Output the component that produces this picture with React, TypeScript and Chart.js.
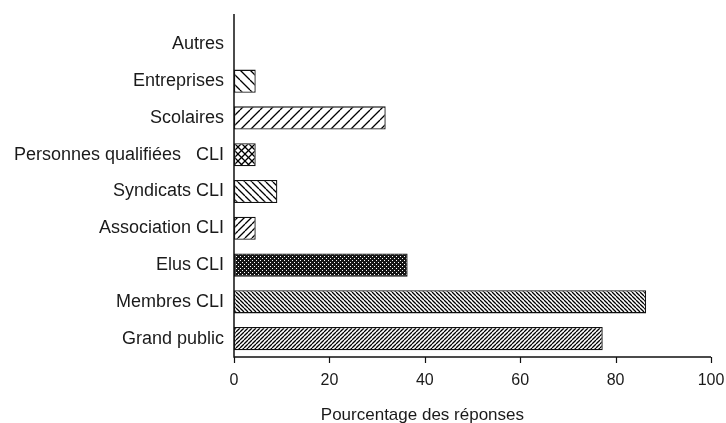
import React, { useEffect, useRef } from "react";
import { Chart, registerables } from "chart.js";

Chart.register(...registerables);

const categories = [
  "Autres",
  "Entreprises",
  "Scolaires",
  "Personnes qualifiées   CLI",
  "Syndicats CLI",
  "Association CLI",
  "Elus CLI",
  "Membres CLI",
  "Grand public",
];
const percentages = [0, 4.55, 31.8, 4.55, 9.09, 4.55, 36.4, 86.4, 77.3];
const xTicks = [0, 20, 40, 60, 80, 100];
const xTitle = "Pourcentage des réponses";

type PatSpec = { kind: "hatch"; size: number; dirs: string[]; lw: number } | { kind: "dots" };
const patternSpecs: PatSpec[] = [
  { kind: "hatch", size: 10, dirs: ["\\"], lw: 1.3 },
  { kind: "hatch", size: 10, dirs: ["\\"], lw: 1.3 },
  { kind: "hatch", size: 10, dirs: ["/"], lw: 1.3 },
  { kind: "hatch", size: 7, dirs: ["/", "\\"], lw: 1.3 },
  { kind: "hatch", size: 7, dirs: ["\\"], lw: 1.3 },
  { kind: "hatch", size: 7, dirs: ["/"], lw: 1.3 },
  { kind: "dots" },
  { kind: "hatch", size: 4, dirs: ["\\"], lw: 1.3 },
  { kind: "hatch", size: 4, dirs: ["/"], lw: 1.3 },
];

function makePattern(ctx: CanvasRenderingContext2D, spec: PatSpec): CanvasPattern | string {
  const c = document.createElement("canvas");
  if (spec.kind === "dots") {
    c.width = 4;
    c.height = 4;
    const g = c.getContext("2d")!;
    g.fillStyle = "#151515";
    g.fillRect(0, 0, 4, 4);
    g.fillStyle = "#fff";
    g.fillRect(0, 0, 1, 1);
    g.fillRect(2, 2, 1, 1);
    return ctx.createPattern(c, "repeat") || "#333";
  }
  const s = spec.size;
  c.width = s;
  c.height = s;
  const g = c.getContext("2d")!;
  g.fillStyle = "#fff";
  g.fillRect(0, 0, s, s);
  g.strokeStyle = "#000";
  g.lineWidth = spec.lw;
  for (const d of spec.dirs) {
    g.beginPath();
    for (const o of [-s, 0, s]) {
      if (d === "/") {
        g.moveTo(o, s);
        g.lineTo(o + s, 0);
      } else {
        g.moveTo(o, 0);
        g.lineTo(o + s, s);
      }
    }
    g.stroke();
  }
  return ctx.createPattern(c, "repeat") || "#fff";
}

const FONT = "'Liberation Sans', Arial, sans-serif";

const axesPlugin = {
  id: "customAxes",
  afterDatasetsDraw(chart: any) {
    const { ctx, chartArea } = chart;
    const xs = chart.scales.x;
    ctx.save();
    ctx.strokeStyle = "#111";
    ctx.lineWidth = 1.5;
    ctx.beginPath();
    ctx.moveTo(chartArea.left, chartArea.top - 12);
    ctx.lineTo(chartArea.left, chartArea.bottom);
    ctx.lineTo(chartArea.right, chartArea.bottom);
    ctx.stroke();
    ctx.lineWidth = 1.2;
    ctx.beginPath();
    for (const t of xTicks) {
      const px = Math.round(xs.getPixelForValue(t)) + 0.5;
      ctx.moveTo(px, chartArea.bottom);
      ctx.lineTo(px, chartArea.bottom + 6);
    }
    ctx.stroke();
    ctx.fillStyle = "#1a1a1a";
    ctx.textAlign = "center";
    ctx.textBaseline = "middle";
    ctx.font = "16px " + FONT;
    for (const t of xTicks) {
      ctx.fillText(String(t), xs.getPixelForValue(t), chartArea.bottom + 24);
    }
    ctx.font = "17px " + FONT;
    ctx.fillText(xTitle, xs.getPixelForValue(39.5), chartArea.bottom + 58);
    ctx.restore();
  },
};

export default function App() {
  const ref = useRef<HTMLCanvasElement>(null);
  useEffect(() => {
    document.body.style.margin = "0";
    const canvas = ref.current!;
    const ctx = canvas.getContext("2d")!;
    const fills = patternSpecs.map((p) => makePattern(ctx, p));
    const chart = new Chart(canvas, {
      type: "bar",
      data: {
        labels: categories,
        datasets: [
          {
            data: percentages,
            backgroundColor: fills as any,
            borderColor: "#111",
            borderWidth: 1.3,
            borderSkipped: false,
            barPercentage: 0.63,
            categoryPercentage: 1,
          },
        ],
      },
      options: {
        indexAxis: "y",
        animation: false,
        responsive: false,
        maintainAspectRatio: false,
        layout: { padding: { top: 26, right: 15, left: 0, bottom: 0 } },
        plugins: { legend: { display: false }, tooltip: { enabled: false } },
        scales: {
          x: {
            min: 0,
            max: 100,
            afterBuildTicks: (s: any) => {
              s.ticks = xTicks.map((v) => ({ value: v }));
            },
            afterFit: (s: any) => {
              s.height = 66;
              s.paddingLeft = 0;
              s.paddingRight = 0;
            },
            grid: { display: false, drawTicks: false },
            border: { display: false },
            ticks: { display: false },
          },
          y: {
            afterFit: (s: any) => {
              s.width = 234;
              s.paddingTop = 0;
              s.paddingBottom = 0;
            },
            grid: { display: false, drawTicks: false },
            border: { display: false },
            ticks: {
              padding: 10,
              color: "#1a1a1a",
              font: { family: FONT, size: 18 },
            },
          },
        },
      },
      plugins: [axesPlugin],
    });
    return () => chart.destroy();
  }, []);
  return (
    <div style={{ position: "fixed", left: 0, top: 0, width: 726, height: 423, background: "#fff" }}>
      <canvas ref={ref} width={726} height={423} />
    </div>
  );
}
